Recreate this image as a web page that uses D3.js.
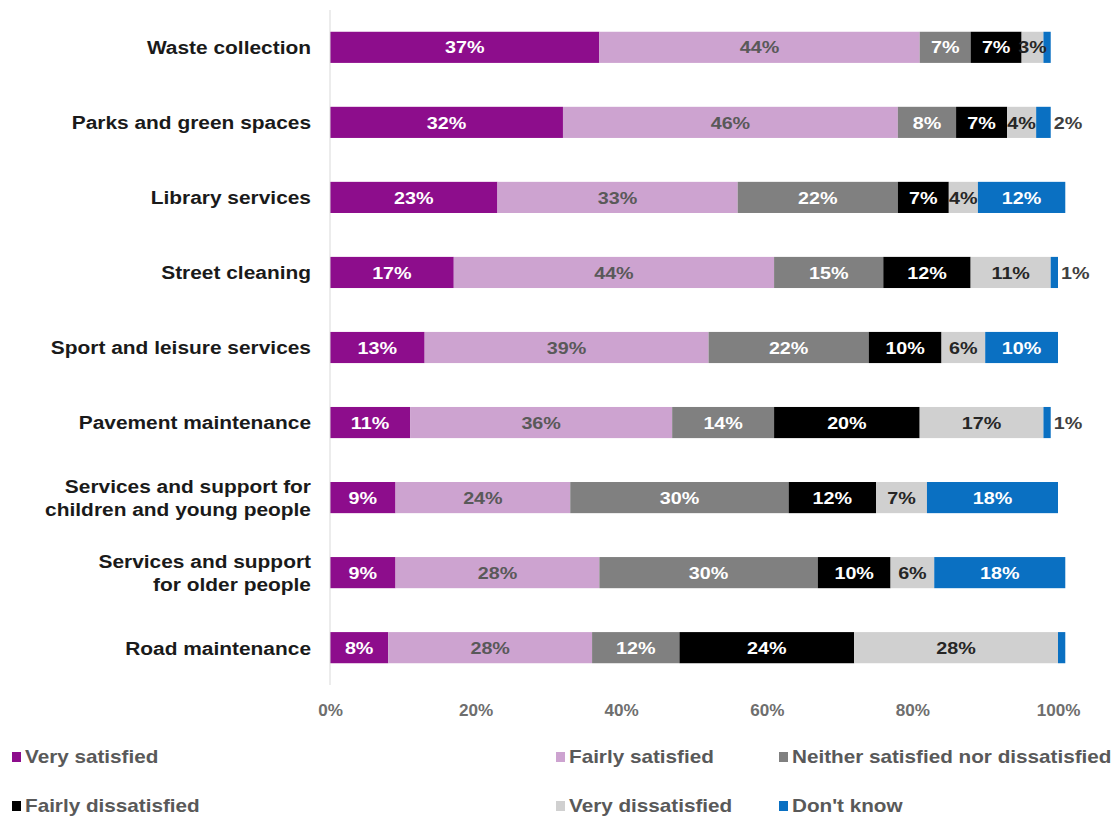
<!DOCTYPE html>
<html>
<head>
<meta charset="utf-8">
<script src="https://cdn.jsdelivr.net/npm/d3@7"></script>
<style>
  html, body { margin: 0; padding: 0; background: #fff; }
  svg text { font-family: "Liberation Sans", Arial, sans-serif; }
</style>
</head>
<body>
<svg id="chart" width="1115" height="818"></svg>
<script>
// Satisfaction with council services (% of respondents)
const services = [
  "Waste collection",
  "Parks and green spaces",
  "Library services",
  "Street cleaning",
  "Sport and leisure services",
  "Pavement maintenance",
  "Services and support for|children and young people",
  "Services and support|for older people",
  "Road maintenance"
];
const responses = [
  "Very satisfied",
  "Fairly satisfied",
  "Neither satisfied nor dissatisfied",
  "Fairly dissatisfied",
  "Very dissatisfied",
  "Don't know"
];
const verySatisfied       = [37, 32, 23, 17, 13, 11, 9, 9, 8];
const fairlySatisfied     = [44, 46, 33, 44, 39, 36, 24, 28, 28];
const neitherSatisfied    = [7, 8, 22, 15, 22, 14, 30, 30, 12];
const fairlyDissatisfied  = [7, 7, 7, 12, 10, 20, 12, 10, 24];
const veryDissatisfied    = [3, 4, 4, 11, 6, 17, 7, 6, 28];
const dontKnow            = [1, 2, 12, 1, 10, 1, 18, 18, 1];
// Whether the "Don't know" share is printed for each service
const dontKnowLabelled    = [false, true, true, true, true, true, true, true, false];
const ticks = [0, 20, 40, 60, 80, 100];

const colors = ["#8D0D8C", "#CDA3D0", "#808080", "#000000", "#D0D0D0", "#0A70C2"];
const labelColors = ["#ffffff", "#595959", "#ffffff", "#ffffff", "#262626", "#ffffff"];

const seriesValues = [verySatisfied, fairlySatisfied, neitherSatisfied,
                      fairlyDissatisfied, veryDissatisfied, dontKnow];

const rows = services.map((s, i) => {
  const r = { service: s, idx: i };
  responses.forEach((k, j) => r[k] = seriesValues[j][i]);
  return r;
});

const svg = d3.select("#chart");
const margin = { left: 330, right: 57, top: 10, bottom: 133 };
const W = 1115, H = 818;

// Text is drawn slightly widened horizontally
function label(parent, px, py, opts) {
  const sx = opts.sx || 1;
  const t = parent.append("text")
    .attr("transform", `translate(${px},${py}) scale(${sx},1)`)
    .attr("text-anchor", opts.anchor || "start")
    .attr("font-size", opts.size)
    .attr("font-weight", opts.weight || "normal")
    .attr("fill", opts.fill);
  return t;
}

const x = d3.scaleLinear().domain([0, 100]).range([margin.left, W - margin.right]);
const y = d3.scaleBand().domain(services).range([margin.top, H - margin.bottom]).paddingInner(0.585).paddingOuter(0.29);

const stacked = d3.stack().keys(responses)(rows);

// Bars
const layer = svg.append("g").selectAll("g").data(stacked).join("g")
  .attr("fill", (d, i) => colors[i]);

layer.selectAll("rect").data(d => d).join("rect")
  .attr("x", d => x(d[0]))
  .attr("y", d => y(d.data.service))
  .attr("width", d => x(d[1]) - x(d[0]))
  .attr("height", y.bandwidth());

// Segment labels
const segLabels = svg.append("g");
stacked.forEach((series, j) => {
  series.forEach(d => {
    const v = d[1] - d[0];
    const i = d.data.idx;
    const cy = y(d.data.service) + y.bandwidth() / 2;
    let tx, anchor = "middle", fill = labelColors[j];
    if (j === 5) {
      if (!dontKnowLabelled[i]) return;
      if (v <= 2) { tx = x(d[1]) + 3; anchor = "start"; fill = "#404040"; }
      else tx = (x(d[0]) + x(d[1])) / 2;
    } else {
      tx = (x(d[0]) + x(d[1])) / 2;
    }
    label(segLabels, tx, cy, { sx: 1.16, anchor, size: 17, weight: "bold", fill })
      .attr("dy", "0.36em")
      .text(v + "%");
  });
});

// Vertical axis line
svg.append("line")
  .attr("x1", x(0)).attr("x2", x(0))
  .attr("y1", margin.top).attr("y2", H - margin.bottom)
  .attr("stroke", "#d9d9d9").attr("stroke-width", 1);

// Category labels
const catLabels = svg.append("g");
services.forEach(s => {
  const parts = s.split("|");
  const cy = y(s) + y.bandwidth() / 2;
  const t = label(catLabels, 311, cy, { sx: 1.1, anchor: "end", size: 19, weight: "bold", fill: "#1a1a1a" });
  parts.forEach((p, k) => {
    t.append("tspan")
      .attr("x", 0)
      .attr("y", (k - (parts.length - 1) / 2) * 23)
      .attr("dy", "0.36em")
      .text(p);
  });
});

// X axis tick labels
const xAxis = d3.axisBottom(x).tickValues(ticks).tickFormat(d => d + "%").tickSize(0);
const gx = svg.append("g").attr("transform", `translate(0,${H - margin.bottom + 17})`).call(xAxis);
gx.select(".domain").remove();
gx.selectAll("text")
  .attr("font-size", 16).attr("font-weight", "bold").attr("fill", "#6e6e6e")
  .attr("transform", "scale(1.07,1)")
  .style("font-family", "'Liberation Sans', Arial, sans-serif");

// Legend
const legend = svg.append("g");
const legendPos = [[12, 757], [556, 757], [779, 757], [12, 806], [556, 806], [779, 806]];
responses.forEach((r, i) => {
  const [lx, ly] = legendPos[i];
  legend.append("rect").attr("x", lx).attr("y", ly - 5).attr("width", 9).attr("height", 10).attr("fill", colors[i]);
  label(legend, lx + 13, ly, { sx: 1.15, size: 18, weight: "bold", fill: "#595959" })
    .attr("dy", "0.36em").text(r);
});
</script>
</body>
</html>
